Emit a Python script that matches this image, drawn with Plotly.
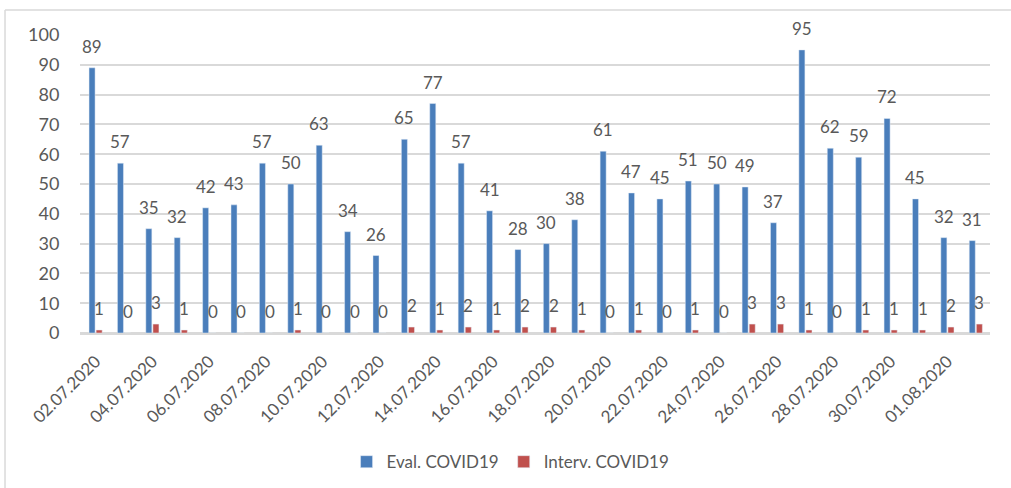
import plotly.graph_objs as go

# Daily counts, 02.07.2020 - 02.08.2020
dates = [f"{d:02d}.07.2020" for d in range(2, 32)] + ["01.08.2020", "02.08.2020"]
eval_covid = [89, 57, 35, 32, 42, 43, 57, 50, 63, 34, 26, 65, 77, 57, 41, 28,
              30, 38, 61, 47, 45, 51, 50, 49, 37, 95, 62, 59, 72, 45, 32, 31]
interv_covid = [1, 0, 3, 1, 0, 0, 0, 1, 0, 0, 0, 2, 1, 2, 1, 2,
                2, 1, 0, 1, 0, 1, 0, 3, 3, 1, 0, 1, 1, 1, 2, 3]
y_ticks = list(range(0, 101, 10))

BLUE = "#4A7EBB"
RED = "#C0504D"
TEXT = "#595959"
GRID = "#D9D9D9"
FONT = "Lato"

fig = go.Figure()
fig.add_trace(go.Bar(x=dates, y=eval_covid, name="Eval. COVID19", marker_color=BLUE))
fig.add_trace(go.Bar(x=dates, y=interv_covid, name="Interv. COVID19", marker_color=RED))

# data labels above each bar (Excel style, a bit of space above the bar)
annotations = []
for series, shift in ((eval_covid, -3.6), (interv_covid, 3.6)):
    for d, v in zip(dates, series):
        annotations.append(
            dict(
                x=d, y=v, text=str(v), showarrow=False,
                xshift=shift, yshift=9, yanchor="bottom",
                font=dict(family=FONT, size=17, color=TEXT),
            )
        )

# light frame around the chart area (only top and left visible in the crop)
frame = [
    dict(type="line", xref="paper", yref="paper", x0=-0.0824, x1=1.03, y0=1.0839, y1=1.0839,
         line=dict(color=GRID, width=1.5)),
    dict(type="line", xref="paper", yref="paper", x0=-0.0824, x1=-0.0824, y0=1.0839, y1=-0.53,
         line=dict(color=GRID, width=1.5)),
]

fig.update_layout(
    width=1011,
    height=488,
    margin=dict(l=80, r=21, t=35, b=155),
    paper_bgcolor="white",
    plot_bgcolor="white",
    font=dict(family=FONT, size=17, color=TEXT),
    barmode="group",
    bargap=0.5,
    bargroupgap=0.15,
    annotations=annotations,
    shapes=frame,
    legend=dict(
        orientation="h",
        xref="container",
        yref="container",
        x=0.505,
        y=0.053,
        xanchor="center",
        yanchor="middle",
        font=dict(family=FONT, size=17, color=TEXT),
        itemwidth=30,
    ),
    xaxis=dict(
        type="category",
        tickvals=dates[::2],
        tickangle=-45,
        ticks="outside",
        ticklen=10,
        tickcolor="rgba(0,0,0,0)",
        showline=True,
        linecolor=GRID,
        linewidth=1.5,
        showgrid=False,
        automargin=False,
        tickfont=dict(family=FONT, size=17, color=TEXT),
    ),
    yaxis=dict(
        range=[0, 100],
        tickvals=y_ticks,
        showgrid=True,
        gridcolor=GRID,
        gridwidth=1.5,
        zeroline=True,
        zerolinecolor=GRID,
        ticks="outside",
        ticklen=16,
        tickcolor="rgba(0,0,0,0)",
        automargin=False,
        tickfont=dict(family=FONT, size=18, color=TEXT),
    ),
)

# drop the default page margin so the figure sits flush in the window
fig.write_html(
    "out.html",
    config={"displayModeBar": False},
    post_script="document.body.style.margin='0';",
)
